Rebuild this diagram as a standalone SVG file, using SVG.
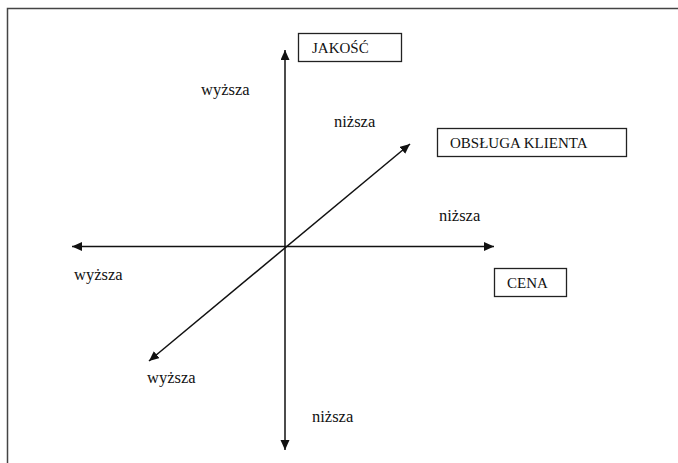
<svg xmlns="http://www.w3.org/2000/svg" width="678" height="463" viewBox="0 0 678 463">
<defs>
<style>
.t{font-family:"Liberation Serif","Times New Roman",serif;font-size:15px;fill:#111}
.l{font-family:"Liberation Serif","Times New Roman",serif;font-size:16.5px;fill:#111}
.box{fill:#fff;stroke:#222;stroke-width:1.3}
.ax{stroke:#111;stroke-width:1.5;fill:none;marker-start:url(#ah);marker-end:url(#ah)}
.frame{stroke:#444;stroke-width:1.5;fill:none}
</style>
<marker id="ah" markerUnits="userSpaceOnUse" markerWidth="11" markerHeight="10" refX="10" refY="4.5" orient="auto-start-reverse" viewBox="0 0 11 10">
<path d="M0,0 L10,4.5 L0,9 z" fill="#111"/>
</marker>
</defs>
<rect width="678" height="463" fill="#fff"/>
<path class="frame" d="M7.5,463 V8.5 H678"/>
<g id="connectors">
<line class="ax" x1="285" y1="450" x2="285" y2="50"/>
<line class="ax" x1="72" y1="246.5" x2="494" y2="246.5"/>
<line class="ax" x1="149" y1="361" x2="410" y2="144"/>
</g>
<g id="jakosc"><rect class="box" x="298.5" y="33.5" width="103" height="28"/><text class="t" x="312" y="53">JAKOŚĆ</text></g>
<g id="obsluga"><rect class="box" x="437.5" y="128.5" width="189" height="28"/><text class="t" x="450" y="148">OBSŁUGA KLIENTA</text></g>
<g id="cena"><rect class="box" x="494.5" y="268.5" width="72" height="28"/><text class="t" x="507" y="288">CENA</text></g>
<g id="labels">
<text class="l" x="201" y="95">wyższa</text>
<text class="l" x="334" y="127">niższa</text>
<text class="l" x="439" y="221">niższa</text>
<text class="l" x="74" y="280">wyższa</text>
<text class="l" x="147" y="383">wyższa</text>
<text class="l" x="312" y="422">niższa</text>
</g>
</svg>
